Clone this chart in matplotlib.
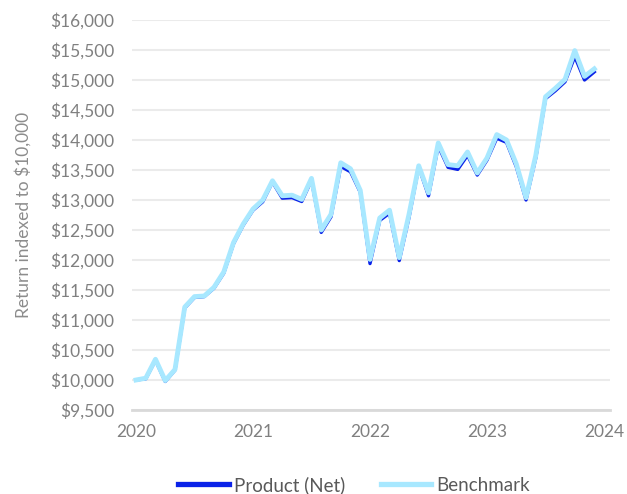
import matplotlib
matplotlib.use("Agg")
import matplotlib.pyplot as plt
from matplotlib.ticker import FuncFormatter, MultipleLocator

plt.rcParams['font.family'] = ['Lato', 'DejaVu Sans']

start_year = 2020
year_ticks = [2020, 2021, 2022, 2023, 2024]
product_net = [10000, 10020, 10330, 9975, 10165, 11200, 11375, 11390, 11530, 11780, 12270, 12580,
               12830, 12970, 13300, 13030, 13040, 12975, 13330, 12460, 12720, 13560, 13470, 13130,
               11940, 12660, 12780, 11990, 12710, 13550, 13070, 13900, 13545, 13510, 13745, 13415,
               13665, 14030, 13960, 13555, 13000, 13700, 14690, 14820, 14970, 15390, 15000, 15135]
benchmark = [10000, 10030, 10345, 9990, 10175, 11215, 11390, 11400, 11545, 11800, 12290, 12600,
             12850, 13000, 13320, 13070, 13080, 13010, 13360, 12500, 12760, 13620, 13520, 13160,
             12010, 12700, 12830, 12040, 12760, 13570, 13120, 13950, 13590, 13570, 13800, 13450,
             13700, 14090, 14000, 13600, 13040, 13740, 14720, 14860, 15010, 15490, 15060, 15185]

x = [start_year + i / 12 for i in range(len(product_net))]

fig = plt.figure(figsize=(6.27, 4.94), dpi=100)
ax = fig.add_axes([132/627, 1 - 410/494, (610-132)/627, (410-20)/494])

ax.plot(x, product_net, color='#0A22E8', lw=2.4, label='Product (Net)', zorder=2)
ax.plot(x, benchmark, color='#A8E8FF', lw=3.5, label='Benchmark', zorder=3)

ax.set_ylim(9500, 16000)
ax.set_xlim(2019.966, 2024.051)
ax.yaxis.set_major_locator(MultipleLocator(500))
ax.yaxis.set_major_formatter(FuncFormatter(lambda v, p: f"${v:,.0f}"))
ax.set_xticks(year_ticks)
ax.set_xticklabels([str(y) for y in year_ticks])

ax.grid(axis='y', color='#EBEBEB', lw=1.5)
ax.set_axisbelow(True)
for s in ['top', 'right', 'left']:
    ax.spines[s].set_visible(False)
ax.spines['bottom'].set_color('#D9D9D9')
ax.spines['bottom'].set_linewidth(2)
ax.tick_params(axis='both', length=0, labelsize=12.5, colors='#808080')
ax.tick_params(axis='x', pad=10)
ax.tick_params(axis='y', pad=13)

ax.set_ylabel('Return indexed to $10,000', fontsize=12.5, color='#8C8C8C', labelpad=13)

handles, labels = ax.get_legend_handles_labels()
leg = fig.legend(handles, labels, loc='center', bbox_to_anchor=(354/627, 1 - 485/494),
                 ncol=2, frameon=False, fontsize=13.5, handlelength=2.7, columnspacing=1.9,
                 handletextpad=0.25)
for t in leg.get_texts():
    t.set_color('#595959')
leg.get_lines()[0].set_linewidth(3.8)
leg.get_lines()[1].set_linewidth(3.8)

fig.savefig('out.png', dpi=100)
